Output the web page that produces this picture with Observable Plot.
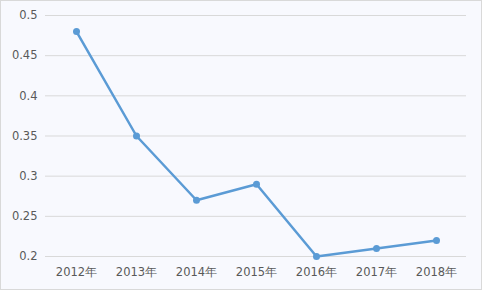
<!DOCTYPE html>
<html>
<head>
<meta charset="utf-8">
<script src="https://cdn.jsdelivr.net/npm/d3@7"></script>
<script src="https://cdn.jsdelivr.net/npm/@observablehq/plot@0.6"></script>
<style>
  html, body { margin: 0; padding: 0; background: #fff; }
  #chart svg { display: block; outline: 1px solid #d9d9d9; outline-offset: -1px; }
</style>
</head>
<body>
<div id="chart"></div>
<script>
const years = ["2012年", "2013年", "2014年", "2015年", "2016年", "2017年", "2018年"];
const values = [0.48, 0.35, 0.27, 0.29, 0.20, 0.21, 0.22];
const yTicks = [0.2, 0.25, 0.3, 0.35, 0.4, 0.45, 0.5];

const data = years.map((y, i) => ({year: y, value: values[i]}));

const plot = Plot.plot({
  width: 482,
  height: 290,
  marginLeft: 45,
  marginRight: 16,
  marginTop: 15,
  marginBottom: 34,
  style: {background: "#f8f9fe", fontFamily: "DejaVu Sans", fontSize: "11.5px", color: "#595959"},
  x: {type: "point", domain: years, padding: 0.5, label: null},
  y: {domain: [0.2, 0.5], label: null},
  marks: [
    Plot.ruleY(yTicks, {stroke: "#d9d9d9", strokeWidth: 1}),
    Plot.axisY({ticks: yTicks, tickSize: 0, tickPadding: 8, tickFormat: d => String(+d.toFixed(2)), fill: "#595959", label: null}),
    Plot.axisX({tickSize: 0, tickPadding: 11, fill: "#595959", label: null}),
    Plot.line(data, {x: "year", y: "value", stroke: "#5b9bd5", strokeWidth: 2.5}),
    Plot.dot(data, {x: "year", y: "value", fill: "#5b9bd5", r: 3.5})
  ]
});
document.getElementById("chart").appendChild(plot);
</script>
</body>
</html>
